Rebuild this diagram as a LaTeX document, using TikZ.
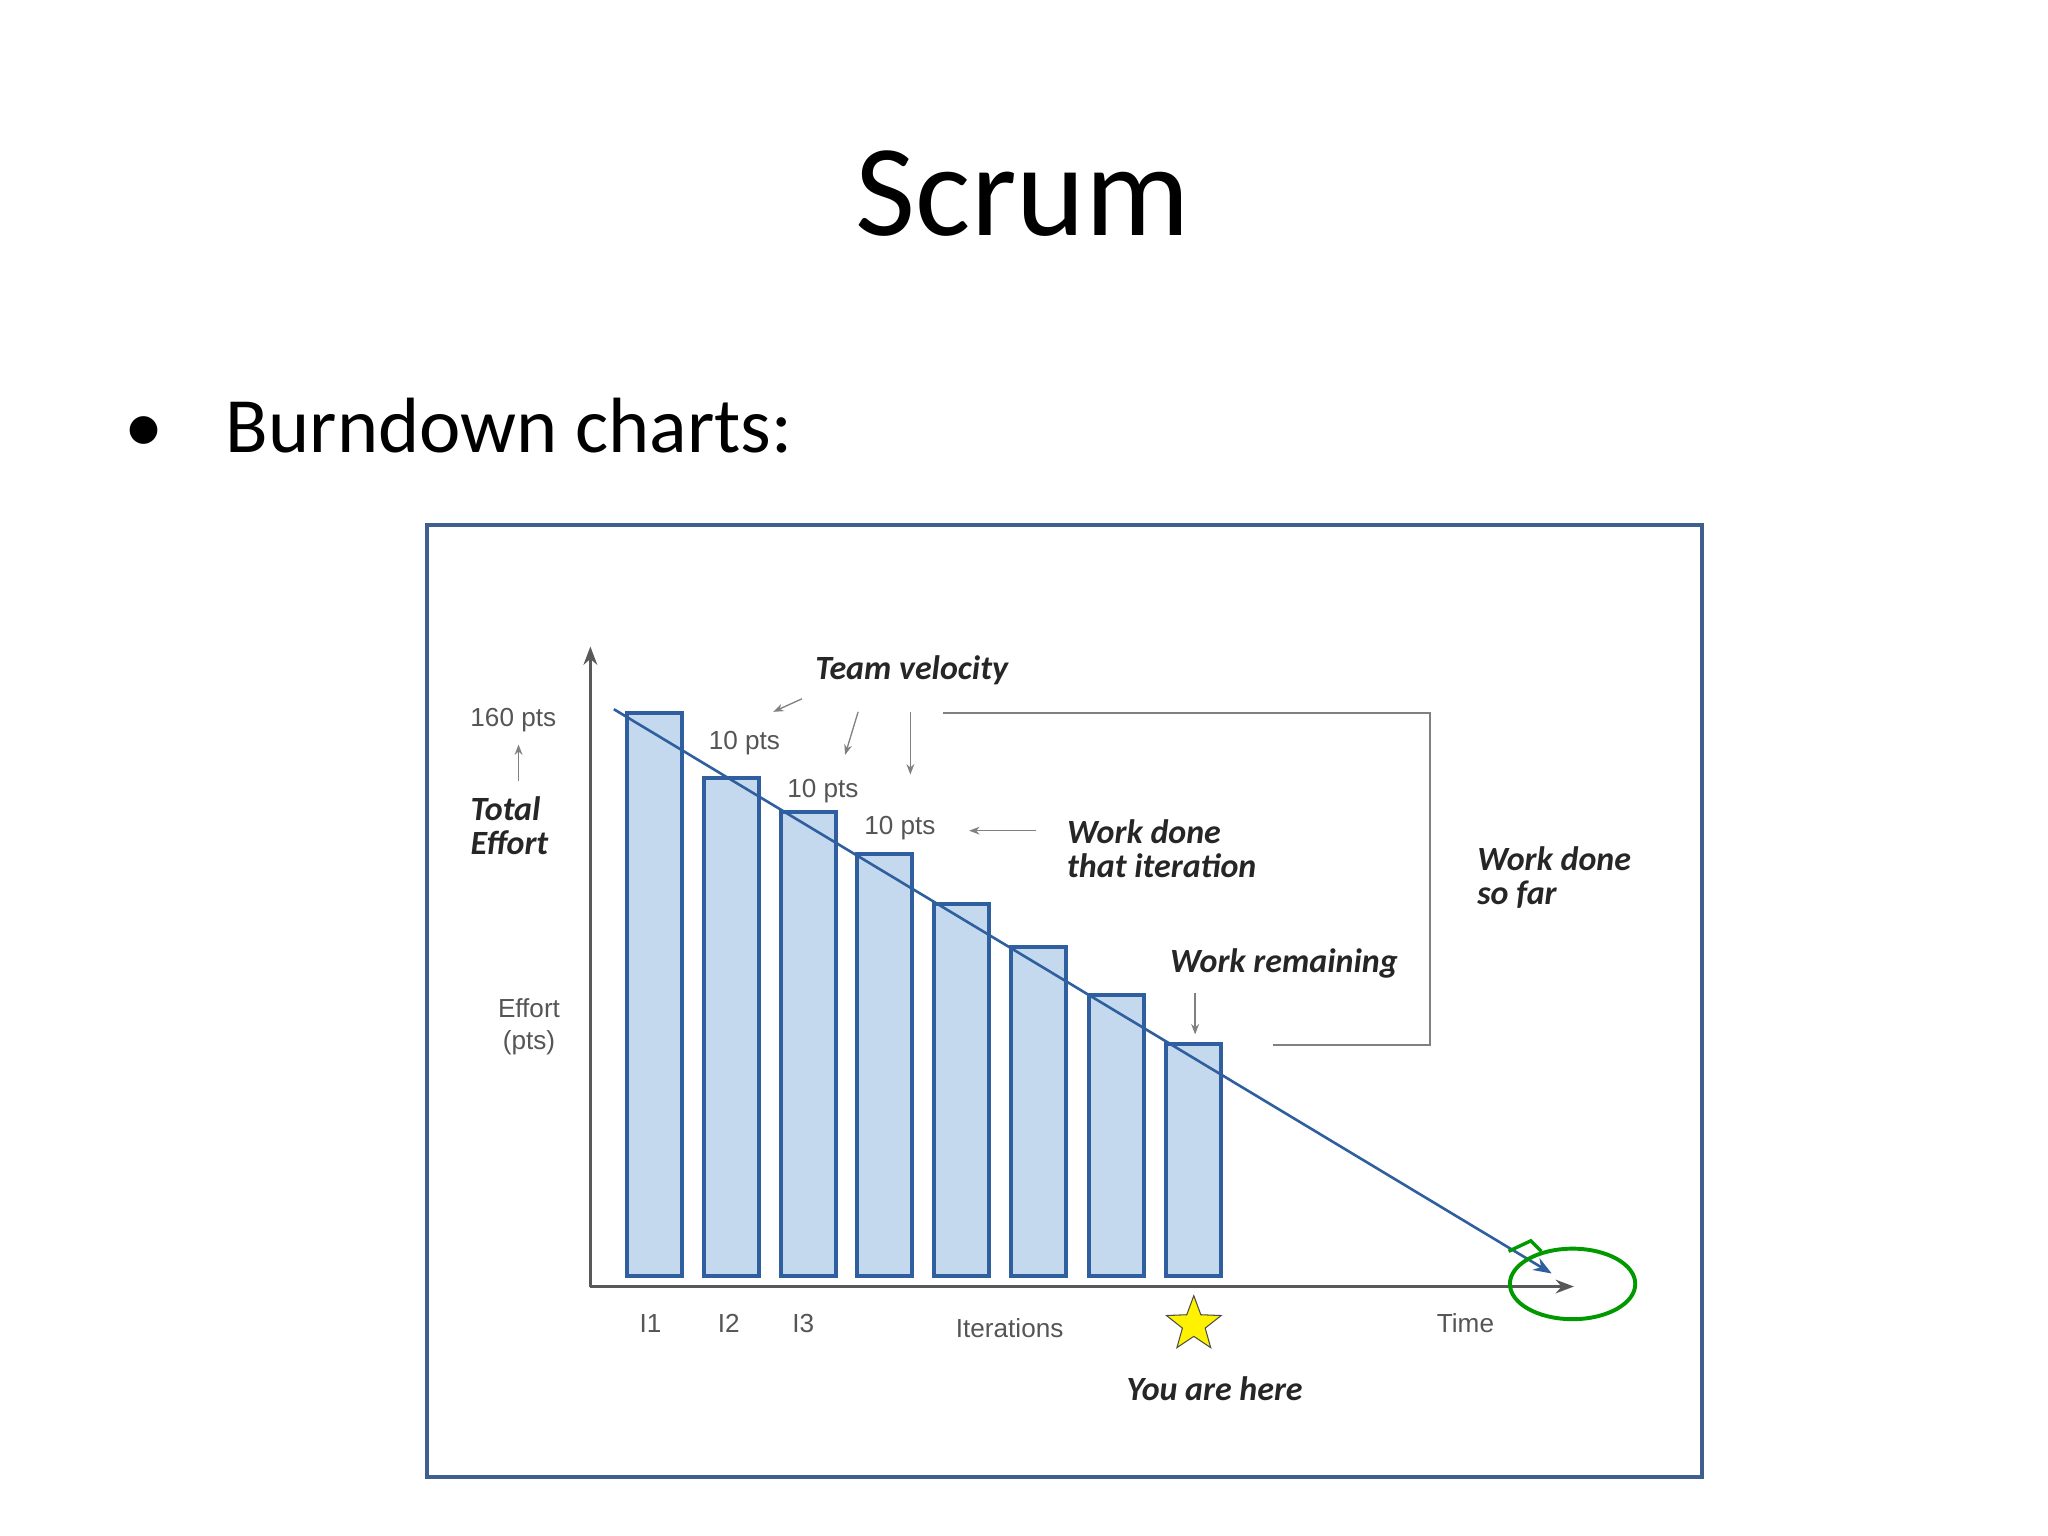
\documentclass[tikz,border=0pt]{standalone}
\usepackage{fontspec}
\setmainfont{Carlito}
\newfontfamily\chartfont{Liberation Sans}
\usetikzlibrary{shapes.geometric,arrows.meta}
\definecolor{frameblue}{HTML}{3F5F8F}
\definecolor{barfill}{HTML}{C5D9EE}
\definecolor{barline}{HTML}{2F5F9F}
\definecolor{labgray}{HTML}{555555}
\tikzset{
  bar/.style={draw=barline,fill=barfill,line width=1.5pt},
  lab/.style={font=\chartfont\fontsize{10}{12}\selectfont,text=labgray,align=center},
  hand/.style={font=\itshape\bfseries\fontsize{13}{13}\selectfont,text=black!85,align=left},
  thin/.style={draw=gray,line width=0.5pt,-{Stealth[length=4pt]}},
}
\begin{document}
\begin{tikzpicture}[x=0.5pt,y=-0.5pt]
\useasboundingbox[fill=white] (0,0) rectangle (1568,1176);
\node (title) at (783,148) {\fontsize{50}{50}\selectfont Scrum};
\node[anchor=west] (bul) at (88,326) {\fontsize{30}{30}\selectfont \textbullet\hspace{0.8em}Burndown charts:};
\draw[frameblue,line width=1.5pt] (327,402) rectangle (1303,1131);
% axes
\coordinate (o) at (452,985);
\coordinate (ytop) at (452,495);
\coordinate (xend) at (1205,985);
\draw[gray!70!black,line width=1pt,-{Stealth[length=7pt]}] (o) -- (ytop);
\draw[gray!70!black,line width=1pt,-{Stealth[length=7pt]}] (o) -- (xend);
% bars
\foreach \l/\t [count=\i] in {480/546,539/596,598/622,656/654,715/692,774/725,834/762,893/799}{
  \draw[bar] (\l,977) rectangle ++(42,\t-977) coordinate (b\i);
}
\coordinate (ts) at (470,543);
\coordinate (te) at (1188,975);
\draw[barline,line width=1pt,-{Stealth[length=7pt]}] (ts) -- (te);
% labels
\node[lab] (l160) at (393,551) {160 pts};
\node[lab] (p1) at (570,569) {10 pts};
\node[lab] (p2) at (630,606) {10 pts};
\node[lab] (p3) at (689,634) {10 pts};
\node[lab] (eff) at (405,786) {Effort\\(pts)};
\node[lab] (i1) at (498,1013) {I1};
\node[lab] (i2) at (558,1013) {I2};
\node[lab] (i3) at (615,1013) {I3};
\node[lab] (it) at (773,1017) {Iterations};
\node[lab] (tm) at (1122,1013) {Time};
% handwritten
\node[hand] (tv) at (698,513) {Team velocity};
\node[hand] (te2) at (390,632) {Total\\Effort};
\node[hand,anchor=west] (wdi) at (810,650) {Work done\\that iteration};
\node[hand,anchor=west] (wdf) at (1124,672) {Work done\\so far};
\node[hand] (wr) at (983,738) {Work remaining};
\node[hand] (yah) at (930,1063) {You are here};
% small arrows
\coordinate (a1s) at (397,598); \coordinate (a1e) at (397,570);
\draw[thin] (a1s) -- (a1e);
\coordinate (a2s) at (614,535); \coordinate (a2e) at (592,545);
\draw[thin] (a2s) -- (a2e);
\coordinate (a3s) at (657,545); \coordinate (a3e) at (647,578);
\draw[thin] (a3s) -- (a3e);
\coordinate (a4s) at (697,545); \coordinate (a4e) at (697,593);
\draw[thin] (a4s) -- (a4e);
\coordinate (a5s) at (793,636); \coordinate (a5e) at (742,636);
\draw[thin] (a5s) -- (a5e);
\coordinate (a6s) at (915,760); \coordinate (a6e) at (915,792);
\draw[thin] (a6s) -- (a6e);
% bracket
\coordinate (k1) at (722,546); \coordinate (k2) at (1095,546);
\coordinate (k3) at (1095,800); \coordinate (k4) at (975,800);
\draw[gray,line width=0.7pt] (k1) -- (k2) -- (k3) -- (k4);
% star
\node[star,star points=5,star point ratio=2.4,fill=yellow,draw=black!70,minimum size=22pt,inner sep=0pt] (st) at (914,1014) {};
% green ellipse
\node[ellipse,draw=green!60!black,line width=1.5pt,minimum width=48pt,minimum height=27pt] (ge) at (1204,983) {};
\coordinate (h1) at (1155,958); \coordinate (h2) at (1172,950);
\draw[green!60!black,line width=1.3pt] (h1) -- (h2) -- (1180,958);
\end{tikzpicture}
\end{document}
